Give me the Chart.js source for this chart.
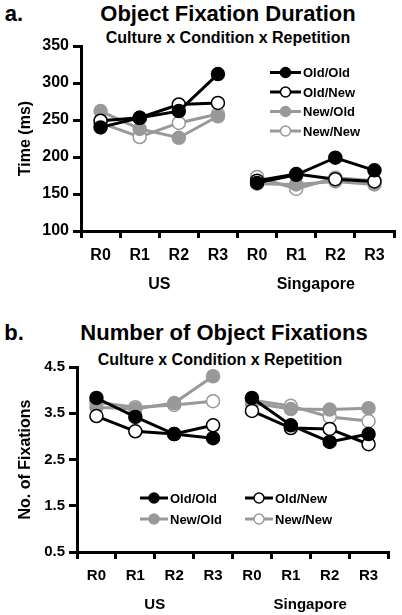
<!DOCTYPE html>
<html>
<head>
<meta charset="utf-8">
<script src="https://cdn.jsdelivr.net/npm/chart.js@4.4.1/dist/chart.umd.min.js"></script>
<style>
  body { margin: 0; background: #fff; font-family: "Liberation Sans", Arial, sans-serif; }
  #page { position: relative; width: 402px; height: 615px; overflow: hidden; }
  .txt { position: absolute; font-weight: bold; color: #000; white-space: nowrap; line-height: 1; transform: translate(-50%, -50%); }
  .panel { position: absolute; left: 14px; font-size: 22px; transform: translate(-50%, -50%); }
  .title { font-size: 22px; }
  .sub { font-size: 16px; }
  canvas { position: absolute; left: 0; }
</style>
</head>
<body>
<div id="page">
  <div class="txt panel" style="top:14px;">a.</div>
  <div class="txt title" style="left:228px; top:14px;">Object Fixation Duration</div>
  <div class="txt sub" style="left:228px; top:38px;">Culture x Condition x Repetition</div>
  <canvas id="durationChart" width="402" height="307" style="top:0;"></canvas>

  <div class="txt panel" style="top:333px;">b.</div>
  <div class="txt title" style="left:224px; top:333px;">Number of Object Fixations</div>
  <div class="txt sub" style="left:220px; top:360px;">Culture x Condition x Repetition</div>
  <canvas id="countChart" width="402" height="308" style="top:307px;"></canvas>
</div>
<script>
// categories
const categories = ['R0', 'R1', 'R2', 'R3', 'R0', 'R1', 'R2', 'R3'];
const cultures = ['US', 'Singapore'];
const conditions = ['Old/Old', 'Old/New', 'New/Old', 'New/New'];

// a. fixation duration (ms), US R0-R3 then Singapore R0-R3
const durationOldOld = [240, 253, 262, 312, 165, 176, 199, 182];
const durationOldNew = [249, 253, 271, 273, 168, 177, 170, 167];
const durationNewOld = [262, 238, 226, 255, 164, 163, 167, 163];
const durationNewNew = [246, 227, 246, 258, 173, 157, 172, 168];
const durationTicks = [100, 150, 200, 250, 300, 350];

// b. number of fixations
const countOldOld = [3.83, 3.42, 3.05, 2.96, 3.83, 3.24, 2.88, 3.05];
const countOldNew = [3.44, 3.11, 3.05, 3.24, 3.55, 3.18, 3.16, 2.83];
const countNewOld = [3.63, 3.59, 3.72, 4.30, 3.72, 3.59, 3.58, 3.61];
const countNewNew = [3.74, 3.63, 3.68, 3.76, 3.78, 3.66, 3.42, 3.33];
const countTicks = [0.5, 1.5, 2.5, 3.5, 4.5];

const BLACK = '#000000';
const GRAY = '#999999';
const WHITE = '#ffffff';
const FONT = '"Liberation Sans", Arial, sans-serif';

const seriesStyle = [
    { line: BLACK, fill: BLACK },
    { line: BLACK, fill: WHITE },
    { line: GRAY, fill: GRAY },
    { line: GRAY, fill: WHITE }
];

function buildDatasets(seriesValues) {
    return seriesValues.map((values, i) => {
        const st = seriesStyle[i];
        return {
            label: conditions[i],
            data: values,
            borderColor: st.line,
            backgroundColor: st.fill,
            borderWidth: 3,
            pointRadius: 6.5,
            pointBorderWidth: 1.5,
            pointBackgroundColor: st.fill,
            pointBorderColor: st.line,
            tension: 0,
            // no line between US R3 and Singapore R0
            segment: {
                borderColor: ctx => ctx.p0DataIndex === 3 ? 'rgba(0,0,0,0)' : st.line
            }
        };
    });
}

// legend drawn inside the plot
const insideLegend = {
    id: 'insideLegend',
    afterDraw(chart, args, opts) {
        const ctx = chart.ctx;
        ctx.save();
        ctx.font = 'bold ' + opts.fontSize + 'px ' + FONT;
        ctx.textBaseline = 'middle';
        ctx.textAlign = 'left';
        chart.data.datasets.forEach((ds, i) => {
            const col = i % opts.cols;
            const row = Math.floor(i / opts.cols);
            const x = opts.x + col * opts.colGap;
            const y = opts.y + row * opts.rowGap;
            ctx.strokeStyle = ds.borderColor;
            ctx.lineWidth = 3;
            ctx.beginPath();
            ctx.moveTo(x, y);
            ctx.lineTo(x + opts.lineLen, y);
            ctx.stroke();
            ctx.beginPath();
            ctx.arc(x + opts.lineLen / 2, y, 5, 0, Math.PI * 2);
            ctx.fillStyle = ds.pointBackgroundColor;
            ctx.fill();
            ctx.lineWidth = 1.5;
            ctx.stroke();
            ctx.fillStyle = BLACK;
            ctx.fillText(ds.label, x + opts.lineLen + 2, y + 1);
        });
        ctx.restore();
    }
};

function makeChart(id, datasets, cfg) {
    return new Chart(document.getElementById(id), {
        type: 'line',
        data: { labels: categories, datasets: datasets },
        options: {
            responsive: false,
            animation: false,
            layout: { padding: cfg.padding },
            plugins: {
                legend: { display: false },
                tooltip: { enabled: false },
                insideLegend: cfg.legend
            },
            scales: {
                x: {
                    type: 'category',
                    offset: true,
                    grid: { offset: true, drawOnChartArea: false, drawTicks: true, tickLength: 7, color: BLACK, lineWidth: 3 },
                    border: { display: true, color: BLACK, width: 3 },
                    ticks: { color: BLACK, padding: 8, font: { family: FONT, size: cfg.fontSize, weight: 'bold' } },
                    afterFit: s => { s.height = 40; }
                },
                x2: {
                    type: 'category',
                    position: 'bottom',
                    labels: cultures,
                    offset: true,
                    grid: { display: false, drawTicks: false },
                    border: { display: false },
                    ticks: { color: BLACK, padding: 4, font: { family: FONT, size: cfg.fontSize, weight: 'bold' } },
                    afterFit: s => { s.height = 22; }
                },
                y: {
                    min: cfg.ticks[0],
                    max: cfg.ticks[cfg.ticks.length - 1],
                    afterBuildTicks: s => { s.ticks = cfg.ticks.map(v => ({ value: v })); },
                    grid: { drawOnChartArea: false, drawTicks: true, tickLength: 8, color: BLACK, lineWidth: 3 },
                    border: { display: true, color: BLACK, width: 3 },
                    ticks: {
                        color: BLACK,
                        padding: 4,
                        font: { family: FONT, size: cfg.fontSize, weight: 'bold' },
                        callback: cfg.tickFormat
                    },
                    title: {
                        display: true,
                        text: cfg.yTitle,
                        color: BLACK,
                        padding: { top: cfg.titlePad, bottom: 0 },
                        font: { family: FONT, size: 16, weight: 'bold' }
                    },
                    afterFit: s => { s.width = cfg.yWidth; }
                }
            }
        },
        plugins: [insideLegend]
    });
}

makeChart('durationChart',
    buildDatasets([durationOldOld, durationOldNew, durationNewOld, durationNewNew]),
    {
        padding: { top: 46, right: 5, bottom: 14, left: 0 },
        ticks: durationTicks,
        tickFormat: v => String(v),
        yTitle: 'Time (ms)',
        titlePad: 16,
        yWidth: 81,
        fontSize: 16,
        legend: { x: 270, y: 72.5, cols: 1, colGap: 0, rowGap: 19.5, lineLen: 31, fontSize: 13 }
    });

makeChart('countChart',
    buildDatasets([countOldOld, countOldNew, countNewOld, countNewNew]),
    {
        padding: { top: 60, right: 14, bottom: 1, left: 0 },
        ticks: countTicks,
        tickFormat: v => v.toFixed(1),
        yTitle: 'No. of Fixations',
        titlePad: 16,
        yWidth: 77,
        fontSize: 15,
        legend: { x: 140, y: 191, cols: 2, colGap: 105, rowGap: 21, lineLen: 28, fontSize: 13 }
    });
</script>
</body>
</html>
